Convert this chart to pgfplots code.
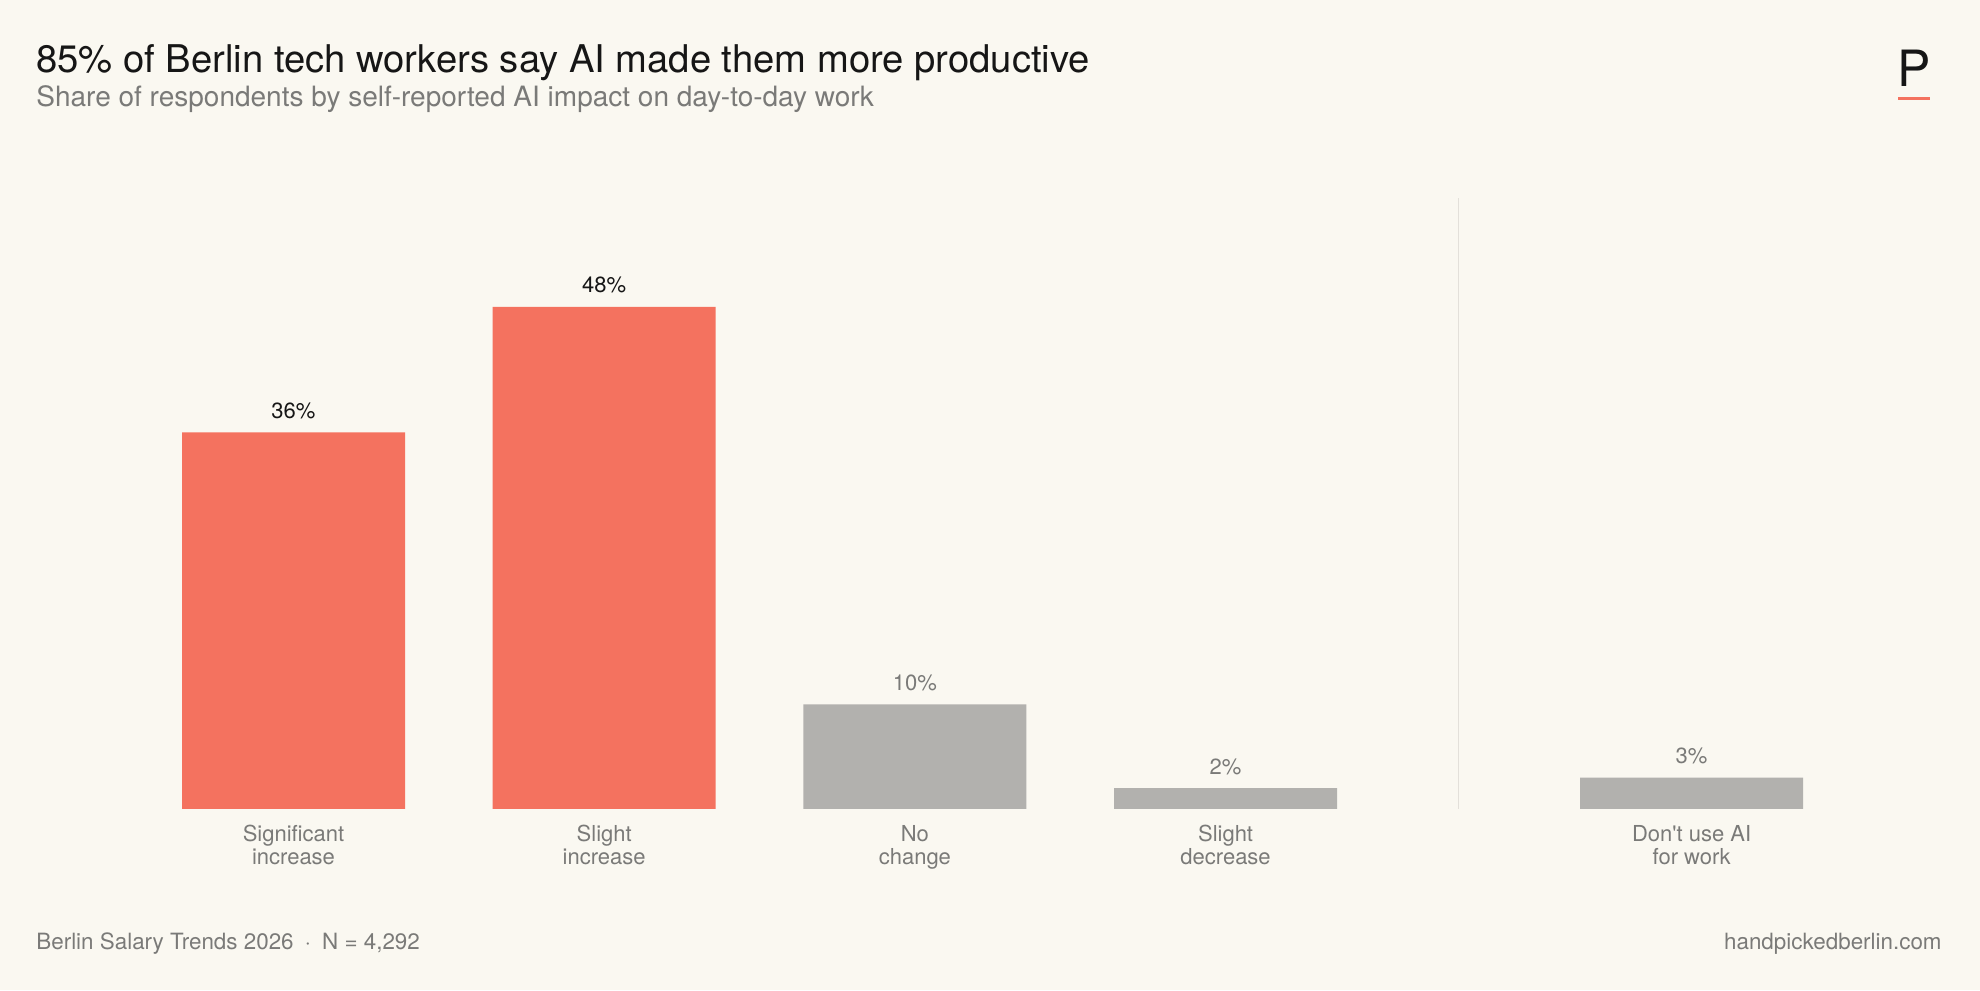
\documentclass[border=0pt]{standalone}
\usepackage{pgfplots}
\pgfplotsset{compat=1.18}
\usepackage{fontspec}
\setmainfont{TeX Gyre Heros}
\definecolor{bg}{HTML}{FAF8F1}
\definecolor{accent}{HTML}{F4725F}
\definecolor{neutral}{HTML}{B2B1AE}
\definecolor{divider}{HTML}{E3E0DA}
\definecolor{ink}{HTML}{161616}
\definecolor{muted}{HTML}{7A7A78}
\begin{document}
\begin{tikzpicture}[x=0.5pt,y=0.5pt]
% canvas 1980 x 990 units
\fill[bg] (0,0) rectangle (1980,990);
% titles
\node[anchor=base west,inner sep=0,text=ink,font=\fontsize{19.1}{22}\selectfont] at (36,917) {85\% of Berlin tech workers say AI made them more productive};
\node[anchor=base west,inner sep=0,text=muted,font=\fontsize{14}{16}\selectfont] at (36,883) {Share of respondents by self-reported AI impact on day-to-day work};
% logo
\node[anchor=base,inner sep=0,text=ink,font=\fontsize{25}{30}\selectfont] at (1914,903) {P};
\fill[accent] (1898,890) rectangle (1930,893);
% footer
\node[anchor=base west,inner sep=0,text=muted,font=\fontsize{11.2}{13}\selectfont] at (36,40) {Berlin Salary Trends 2026\enspace$\cdot$\enspace N = 4,292};
\node[anchor=base east,inner sep=0,text=muted,font=\fontsize{11.2}{13}\selectfont] at (1942,40) {handpickedberlin.com};
\begin{axis}[
  at={(69.08pt,90.5pt)}, anchor=south west,
  scale only axis, width=854.4pt, height=305.5pt,
  xmin=0.5, xmax=6, ymin=0, ymax=58.4,
  axis line style={draw=none},
  major tick length=0pt,
  ytick=\empty,
  xtick={1,2,3,4,5.5},
  xticklabels={Significant\\increase, Slight\\increase, No\\change, Slight\\decrease, Don\textquotesingle t use AI\\for work},
  xticklabel style={align=center, text=muted, font=\fontsize{11}{11.6}\selectfont, yshift=-4.5pt},
  /pgf/number format/assume math mode=true,
  ybar, bar width=111.5pt, bar shift=0pt,
  nodes near coords={\pgfmathprintnumber{\pgfplotspointmeta}\%},
  every node near coord/.append style={anchor=base, yshift=7pt, font=\fontsize{11}{13}\selectfont},
  clip=false,
]
\draw[divider, line width=0.8pt] (axis cs:4.75,0) -- (axis cs:4.75,58.4);
\addplot[fill=accent, draw=none, nodes near coords style={text=ink}] coordinates {(1,36) (2,48)};
\addplot[fill=neutral, draw=none, nodes near coords style={text=muted}] coordinates {(3,10) (4,2) (5.5,3)};
\end{axis}
\end{tikzpicture}
\end{document}
